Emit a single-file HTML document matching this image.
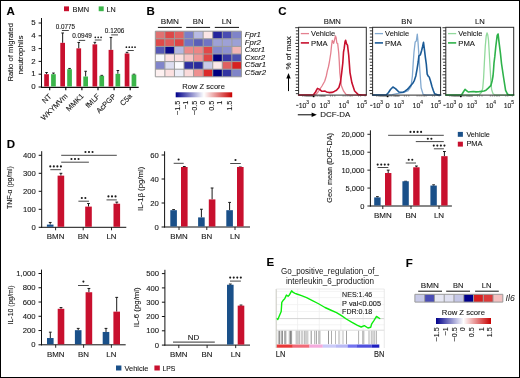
<!DOCTYPE html>
<html><head><meta charset="utf-8"><style>
html,body{margin:0;padding:0;background:#fff;}
svg{display:block;font-family:"Liberation Sans", sans-serif;will-change:transform;}
text{stroke:#161616;stroke-width:0.1px;}
</style></head><body>
<svg width="520" height="378" viewBox="0 0 520 378">
<rect x="0" y="0" width="520" height="378" fill="#fff"/>
<text x="6.50" y="14.80" font-size="11.5" text-anchor="start" fill="#000" font-weight="bold">A</text>
<rect x="64.00" y="6.40" width="5.00" height="4.80" fill="#C8102E"/>
<text x="72.50" y="11.50" font-size="8.0" text-anchor="start" fill="#161616" textLength="16.5" lengthAdjust="spacingAndGlyphs">BMN</text>
<rect x="98.70" y="6.40" width="5.00" height="4.80" fill="#3BB54A"/>
<text x="106.50" y="11.50" font-size="8.0" text-anchor="start" fill="#161616" textLength="9.2" lengthAdjust="spacingAndGlyphs">LN</text>
<line x1="41.50" y1="18.00" x2="41.50" y2="87.50" stroke="#111" stroke-width="1.0"/>
<line x1="41.00" y1="87.30" x2="138.70" y2="87.30" stroke="#111" stroke-width="1.2"/>
<line x1="38.60" y1="87.00" x2="41.50" y2="87.00" stroke="#111" stroke-width="1.0"/>
<text x="35.60" y="89.10" font-size="7.9" text-anchor="end" fill="#161616">0</text>
<line x1="38.60" y1="74.20" x2="41.50" y2="74.20" stroke="#111" stroke-width="1.0"/>
<text x="35.60" y="76.30" font-size="7.9" text-anchor="end" fill="#161616">1</text>
<line x1="38.60" y1="61.40" x2="41.50" y2="61.40" stroke="#111" stroke-width="1.0"/>
<text x="35.60" y="63.50" font-size="7.9" text-anchor="end" fill="#161616">2</text>
<line x1="38.60" y1="48.60" x2="41.50" y2="48.60" stroke="#111" stroke-width="1.0"/>
<text x="35.60" y="50.70" font-size="7.9" text-anchor="end" fill="#161616">3</text>
<line x1="38.60" y1="35.80" x2="41.50" y2="35.80" stroke="#111" stroke-width="1.0"/>
<text x="35.60" y="37.90" font-size="7.9" text-anchor="end" fill="#161616">4</text>
<line x1="38.60" y1="23.00" x2="41.50" y2="23.00" stroke="#111" stroke-width="1.0"/>
<text x="35.60" y="25.10" font-size="7.9" text-anchor="end" fill="#161616">5</text>
<text x="13.30" y="52.30" font-size="8.0" text-anchor="middle" fill="#161616" textLength="58.5" lengthAdjust="spacingAndGlyphs" transform="rotate(-90 13.30 52.30)">Ratio of migrated</text>
<text x="22.60" y="55.00" font-size="8.0" text-anchor="middle" fill="#161616" textLength="39.0" lengthAdjust="spacingAndGlyphs" transform="rotate(-90 22.60 55.00)">neutrophils</text>
<line x1="46.55" y1="74.20" x2="46.55" y2="72.54" stroke="#1a1a1a" stroke-width="1.0"/>
<line x1="45.25" y1="72.54" x2="47.85" y2="72.54" stroke="#1a1a1a" stroke-width="1.0"/>
<rect x="44.20" y="74.20" width="4.70" height="12.30" fill="#C8102E"/>
<line x1="53.45" y1="74.20" x2="53.45" y2="73.05" stroke="#1a1a1a" stroke-width="1.0"/>
<line x1="52.15" y1="73.05" x2="54.75" y2="73.05" stroke="#1a1a1a" stroke-width="1.0"/>
<rect x="51.10" y="74.20" width="4.70" height="12.30" fill="#3BB54A"/>
<line x1="49.70" y1="87.00" x2="49.70" y2="90.20" stroke="#000" stroke-width="1.1"/>
<text x="52.00" y="96.70" font-size="7.4" text-anchor="end" fill="#161616" transform="rotate(-45 52.00 96.70)">NT</text>
<line x1="62.65" y1="42.84" x2="62.65" y2="32.98" stroke="#1a1a1a" stroke-width="1.0"/>
<line x1="61.35" y1="32.98" x2="63.95" y2="32.98" stroke="#1a1a1a" stroke-width="1.0"/>
<rect x="60.30" y="42.84" width="4.70" height="43.66" fill="#C8102E"/>
<line x1="69.55" y1="69.21" x2="69.55" y2="68.44" stroke="#1a1a1a" stroke-width="1.0"/>
<line x1="68.25" y1="68.44" x2="70.85" y2="68.44" stroke="#1a1a1a" stroke-width="1.0"/>
<rect x="67.20" y="69.21" width="4.70" height="17.29" fill="#3BB54A"/>
<line x1="65.80" y1="87.00" x2="65.80" y2="90.20" stroke="#000" stroke-width="1.1"/>
<text x="68.10" y="96.70" font-size="7.4" text-anchor="end" fill="#161616" transform="rotate(-45 68.10 96.70)">WKYMVm</text>
<line x1="78.75" y1="48.34" x2="78.75" y2="42.46" stroke="#1a1a1a" stroke-width="1.0"/>
<line x1="77.45" y1="42.46" x2="80.05" y2="42.46" stroke="#1a1a1a" stroke-width="1.0"/>
<rect x="76.40" y="48.34" width="4.70" height="38.16" fill="#C8102E"/>
<line x1="85.65" y1="76.50" x2="85.65" y2="71.26" stroke="#1a1a1a" stroke-width="1.0"/>
<line x1="84.35" y1="71.26" x2="86.95" y2="71.26" stroke="#1a1a1a" stroke-width="1.0"/>
<rect x="83.30" y="76.50" width="4.70" height="10.00" fill="#3BB54A"/>
<line x1="81.90" y1="87.00" x2="81.90" y2="90.20" stroke="#000" stroke-width="1.1"/>
<text x="84.20" y="96.70" font-size="7.4" text-anchor="end" fill="#161616" transform="rotate(-45 84.20 96.70)">MMK1</text>
<line x1="94.85" y1="44.38" x2="94.85" y2="42.33" stroke="#1a1a1a" stroke-width="1.0"/>
<line x1="93.55" y1="42.33" x2="96.15" y2="42.33" stroke="#1a1a1a" stroke-width="1.0"/>
<rect x="92.50" y="44.38" width="4.70" height="42.12" fill="#C8102E"/>
<line x1="101.75" y1="75.80" x2="101.75" y2="75.35" stroke="#1a1a1a" stroke-width="1.0"/>
<line x1="100.45" y1="75.35" x2="103.05" y2="75.35" stroke="#1a1a1a" stroke-width="1.0"/>
<rect x="99.40" y="75.80" width="4.70" height="10.70" fill="#3BB54A"/>
<line x1="98.00" y1="87.00" x2="98.00" y2="90.20" stroke="#000" stroke-width="1.1"/>
<text x="100.30" y="96.70" font-size="7.4" text-anchor="end" fill="#161616" transform="rotate(-45 100.30 96.70)">fMLF</text>
<line x1="110.95" y1="49.88" x2="110.95" y2="37.46" stroke="#1a1a1a" stroke-width="1.0"/>
<line x1="109.65" y1="37.46" x2="112.25" y2="37.46" stroke="#1a1a1a" stroke-width="1.0"/>
<rect x="108.60" y="49.88" width="4.70" height="36.62" fill="#C8102E"/>
<line x1="117.85" y1="73.82" x2="117.85" y2="70.49" stroke="#1a1a1a" stroke-width="1.0"/>
<line x1="116.55" y1="70.49" x2="119.15" y2="70.49" stroke="#1a1a1a" stroke-width="1.0"/>
<rect x="115.50" y="73.82" width="4.70" height="12.68" fill="#3BB54A"/>
<line x1="114.10" y1="87.00" x2="114.10" y2="90.20" stroke="#000" stroke-width="1.1"/>
<text x="116.40" y="96.70" font-size="7.4" text-anchor="end" fill="#161616" transform="rotate(-45 116.40 96.70)">AcPGP</text>
<line x1="127.05" y1="53.46" x2="127.05" y2="52.31" stroke="#1a1a1a" stroke-width="1.0"/>
<line x1="125.75" y1="52.31" x2="128.35" y2="52.31" stroke="#1a1a1a" stroke-width="1.0"/>
<rect x="124.70" y="53.46" width="4.70" height="33.04" fill="#C8102E"/>
<line x1="133.95" y1="74.58" x2="133.95" y2="74.20" stroke="#1a1a1a" stroke-width="1.0"/>
<line x1="132.65" y1="74.20" x2="135.25" y2="74.20" stroke="#1a1a1a" stroke-width="1.0"/>
<rect x="131.60" y="74.58" width="4.70" height="11.92" fill="#3BB54A"/>
<line x1="130.20" y1="87.00" x2="130.20" y2="90.20" stroke="#000" stroke-width="1.1"/>
<text x="132.50" y="96.70" font-size="7.4" text-anchor="end" fill="#161616" transform="rotate(-45 132.50 96.70)">C5a</text>
<text x="55.80" y="28.80" font-size="6.3" text-anchor="start" fill="#161616" textLength="19.3" lengthAdjust="spacingAndGlyphs">0.0775</text>
<line x1="61.90" y1="30.50" x2="68.80" y2="30.50" stroke="#333" stroke-width="0.9"/>
<text x="72.20" y="37.80" font-size="6.3" text-anchor="start" fill="#161616" textLength="19.6" lengthAdjust="spacingAndGlyphs">0.0949</text>
<line x1="78.80" y1="40.40" x2="85.20" y2="40.40" stroke="#333" stroke-width="0.9"/>
<circle cx="95.30" cy="37.30" r="0.85" fill="#1a1a1a"/>
<circle cx="98.20" cy="37.30" r="0.85" fill="#1a1a1a"/>
<circle cx="101.10" cy="37.30" r="0.85" fill="#1a1a1a"/>
<line x1="94.80" y1="40.00" x2="101.60" y2="40.00" stroke="#333" stroke-width="0.9"/>
<text x="104.80" y="32.50" font-size="6.3" text-anchor="start" fill="#161616" textLength="19.6" lengthAdjust="spacingAndGlyphs">0.1206</text>
<line x1="111.20" y1="34.90" x2="118.00" y2="34.90" stroke="#333" stroke-width="0.9"/>
<circle cx="126.38" cy="47.20" r="0.85" fill="#1a1a1a"/>
<circle cx="129.26" cy="47.20" r="0.85" fill="#1a1a1a"/>
<circle cx="132.14" cy="47.20" r="0.85" fill="#1a1a1a"/>
<circle cx="135.02" cy="47.20" r="0.85" fill="#1a1a1a"/>
<line x1="127.50" y1="50.50" x2="133.80" y2="50.50" stroke="#333" stroke-width="0.9"/>
<text x="146.50" y="15.00" font-size="11.5" text-anchor="start" fill="#000" font-weight="bold">B</text>
<text x="169.90" y="24.20" font-size="8.0" text-anchor="middle" fill="#161616" textLength="18.2" lengthAdjust="spacingAndGlyphs">BMN</text>
<line x1="157.90" y1="27.40" x2="181.80" y2="27.40" stroke="#111" stroke-width="1.0"/>
<text x="198.20" y="24.30" font-size="8.0" text-anchor="middle" fill="#161616" textLength="10.7" lengthAdjust="spacingAndGlyphs">BN</text>
<line x1="186.20" y1="27.40" x2="210.10" y2="27.40" stroke="#111" stroke-width="1.0"/>
<text x="226.70" y="24.30" font-size="8.0" text-anchor="middle" fill="#161616" textLength="10.0" lengthAdjust="spacingAndGlyphs">LN</text>
<line x1="214.80" y1="27.40" x2="239.00" y2="27.40" stroke="#111" stroke-width="1.0"/>
<rect x="155.30" y="31.20" width="9.57" height="7.60" fill="#E07272"/>
<rect x="164.87" y="31.20" width="9.57" height="7.60" fill="#DD4848"/>
<rect x="174.44" y="31.20" width="9.57" height="7.60" fill="#E06262"/>
<rect x="184.01" y="31.20" width="9.57" height="7.60" fill="#7B7FC8"/>
<rect x="193.58" y="31.20" width="9.57" height="7.60" fill="#B8BBE3"/>
<rect x="203.15" y="31.20" width="9.57" height="7.60" fill="#FBE6E6"/>
<rect x="212.72" y="31.20" width="9.57" height="7.60" fill="#23239C"/>
<rect x="222.29" y="31.20" width="9.57" height="7.60" fill="#4A4DB2"/>
<rect x="231.86" y="31.20" width="9.57" height="7.60" fill="#7F83C9"/>
<rect x="155.30" y="38.80" width="9.57" height="7.60" fill="#DE4A4A"/>
<rect x="164.87" y="38.80" width="9.57" height="7.60" fill="#E05A5A"/>
<rect x="174.44" y="38.80" width="9.57" height="7.60" fill="#DC4545"/>
<rect x="184.01" y="38.80" width="9.57" height="7.60" fill="#7074C4"/>
<rect x="193.58" y="38.80" width="9.57" height="7.60" fill="#5A5EB8"/>
<rect x="203.15" y="38.80" width="9.57" height="7.60" fill="#7074C4"/>
<rect x="212.72" y="38.80" width="9.57" height="7.60" fill="#9EA1D6"/>
<rect x="222.29" y="38.80" width="9.57" height="7.60" fill="#9EA1D6"/>
<rect x="231.86" y="38.80" width="9.57" height="7.60" fill="#9CA0D5"/>
<rect x="155.30" y="46.40" width="9.57" height="7.60" fill="#5558B5"/>
<rect x="164.87" y="46.40" width="9.57" height="7.60" fill="#0A0A8A"/>
<rect x="174.44" y="46.40" width="9.57" height="7.60" fill="#B5B8E0"/>
<rect x="184.01" y="46.40" width="9.57" height="7.60" fill="#EC8A8A"/>
<rect x="193.58" y="46.40" width="9.57" height="7.60" fill="#EC8585"/>
<rect x="203.15" y="46.40" width="9.57" height="7.60" fill="#E04848"/>
<rect x="212.72" y="46.40" width="9.57" height="7.60" fill="#8488CC"/>
<rect x="222.29" y="46.40" width="9.57" height="7.60" fill="#8E92D0"/>
<rect x="231.86" y="46.40" width="9.57" height="7.60" fill="#F2B5B5"/>
<rect x="155.30" y="54.00" width="9.57" height="7.60" fill="#F8F8FC"/>
<rect x="164.87" y="54.00" width="9.57" height="7.60" fill="#FBE0E0"/>
<rect x="174.44" y="54.00" width="9.57" height="7.60" fill="#FBE0E0"/>
<rect x="184.01" y="54.00" width="9.57" height="7.60" fill="#F6C5C5"/>
<rect x="193.58" y="54.00" width="9.57" height="7.60" fill="#EE9595"/>
<rect x="203.15" y="54.00" width="9.57" height="7.60" fill="#E04444"/>
<rect x="212.72" y="54.00" width="9.57" height="7.60" fill="#00007F"/>
<rect x="222.29" y="54.00" width="9.57" height="7.60" fill="#3838A5"/>
<rect x="231.86" y="54.00" width="9.57" height="7.60" fill="#4C50B0"/>
<rect x="155.30" y="61.60" width="9.57" height="7.60" fill="#8185CB"/>
<rect x="164.87" y="61.60" width="9.57" height="7.60" fill="#DCDDF0"/>
<rect x="174.44" y="61.60" width="9.57" height="7.60" fill="#FAFAFD"/>
<rect x="184.01" y="61.60" width="9.57" height="7.60" fill="#2E30A0"/>
<rect x="193.58" y="61.60" width="9.57" height="7.60" fill="#2A2C9C"/>
<rect x="203.15" y="61.60" width="9.57" height="7.60" fill="#C8CAE8"/>
<rect x="212.72" y="61.60" width="9.57" height="7.60" fill="#FCE8E8"/>
<rect x="222.29" y="61.60" width="9.57" height="7.60" fill="#E06060"/>
<rect x="231.86" y="61.60" width="9.57" height="7.60" fill="#D82020"/>
<rect x="155.30" y="69.20" width="9.57" height="7.60" fill="#FDF0F0"/>
<rect x="164.87" y="69.20" width="9.57" height="7.60" fill="#FBE0E0"/>
<rect x="174.44" y="69.20" width="9.57" height="7.60" fill="#ECEDF7"/>
<rect x="184.01" y="69.20" width="9.57" height="7.60" fill="#FADADA"/>
<rect x="193.58" y="69.20" width="9.57" height="7.60" fill="#EE8F8F"/>
<rect x="203.15" y="69.20" width="9.57" height="7.60" fill="#DC2A2A"/>
<rect x="212.72" y="69.20" width="9.57" height="7.60" fill="#000080"/>
<rect x="222.29" y="69.20" width="9.57" height="7.60" fill="#3335A2"/>
<rect x="231.86" y="69.20" width="9.57" height="7.60" fill="#7F84C8"/>
<line x1="155.30" y1="31.20" x2="155.30" y2="76.80" stroke="#9a9a9a" stroke-width="1.0"/>
<line x1="164.87" y1="31.20" x2="164.87" y2="76.80" stroke="#9a9a9a" stroke-width="1.0"/>
<line x1="174.44" y1="31.20" x2="174.44" y2="76.80" stroke="#9a9a9a" stroke-width="1.0"/>
<line x1="184.01" y1="31.20" x2="184.01" y2="76.80" stroke="#9a9a9a" stroke-width="1.0"/>
<line x1="193.58" y1="31.20" x2="193.58" y2="76.80" stroke="#9a9a9a" stroke-width="1.0"/>
<line x1="203.15" y1="31.20" x2="203.15" y2="76.80" stroke="#9a9a9a" stroke-width="1.0"/>
<line x1="212.72" y1="31.20" x2="212.72" y2="76.80" stroke="#9a9a9a" stroke-width="1.0"/>
<line x1="222.29" y1="31.20" x2="222.29" y2="76.80" stroke="#9a9a9a" stroke-width="1.0"/>
<line x1="231.86" y1="31.20" x2="231.86" y2="76.80" stroke="#9a9a9a" stroke-width="1.0"/>
<line x1="241.43" y1="31.20" x2="241.43" y2="76.80" stroke="#9a9a9a" stroke-width="1.0"/>
<line x1="155.30" y1="31.20" x2="241.43" y2="31.20" stroke="#9a9a9a" stroke-width="1.0"/>
<line x1="155.30" y1="38.80" x2="241.43" y2="38.80" stroke="#9a9a9a" stroke-width="1.0"/>
<line x1="155.30" y1="46.40" x2="241.43" y2="46.40" stroke="#9a9a9a" stroke-width="1.0"/>
<line x1="155.30" y1="54.00" x2="241.43" y2="54.00" stroke="#9a9a9a" stroke-width="1.0"/>
<line x1="155.30" y1="61.60" x2="241.43" y2="61.60" stroke="#9a9a9a" stroke-width="1.0"/>
<line x1="155.30" y1="69.20" x2="241.43" y2="69.20" stroke="#9a9a9a" stroke-width="1.0"/>
<line x1="155.30" y1="76.80" x2="241.43" y2="76.80" stroke="#9a9a9a" stroke-width="1.0"/>
<text x="244.80" y="36.90" font-size="7.8" text-anchor="start" fill="#161616" font-style="italic">Fpr1</text>
<text x="244.80" y="44.50" font-size="7.8" text-anchor="start" fill="#161616" font-style="italic">Fpr2</text>
<text x="244.80" y="52.10" font-size="7.8" text-anchor="start" fill="#161616" font-style="italic">Cxcr1</text>
<text x="244.80" y="59.70" font-size="7.8" text-anchor="start" fill="#161616" font-style="italic">Cxcr2</text>
<text x="244.80" y="67.30" font-size="7.8" text-anchor="start" fill="#161616" font-style="italic">C5ar1</text>
<text x="244.80" y="74.90" font-size="7.8" text-anchor="start" fill="#161616" font-style="italic">C5ar2</text>
<text x="203.60" y="89.30" font-size="7.6" text-anchor="middle" fill="#161616" textLength="42.5" lengthAdjust="spacingAndGlyphs">Row Z score</text>
<defs><linearGradient id="cb1" x1="0" x2="1" y1="0" y2="0"><stop offset="0" stop-color="#00008B"/><stop offset="0.5" stop-color="#FFFFFF"/><stop offset="1" stop-color="#C80000"/></linearGradient></defs>
<rect x="175.70" y="92.30" width="56.50" height="5.00" fill="url(#cb1)"/>
<text x="179.90" y="100.60" font-size="7.3" text-anchor="end" fill="#161616" transform="rotate(-90 179.90 100.60)">−1.5</text>
<text x="187.80" y="100.60" font-size="7.3" text-anchor="end" fill="#161616" transform="rotate(-90 187.80 100.60)">−1</text>
<text x="197.30" y="100.60" font-size="7.3" text-anchor="end" fill="#161616" transform="rotate(-90 197.30 100.60)">−0.5</text>
<text x="204.90" y="100.60" font-size="7.3" text-anchor="end" fill="#161616" transform="rotate(-90 204.90 100.60)">0</text>
<text x="213.60" y="100.60" font-size="7.3" text-anchor="end" fill="#161616" transform="rotate(-90 213.60 100.60)">0.5</text>
<text x="222.00" y="100.60" font-size="7.3" text-anchor="end" fill="#161616" transform="rotate(-90 222.00 100.60)">1</text>
<text x="232.20" y="100.60" font-size="7.3" text-anchor="end" fill="#161616" transform="rotate(-90 232.20 100.60)">1.5</text>
<text x="278.30" y="15.20" font-size="11.5" text-anchor="start" fill="#000" font-weight="bold">C</text>
<text x="291.20" y="52.90" font-size="7.4" text-anchor="middle" fill="#161616" textLength="33.2" lengthAdjust="spacingAndGlyphs" transform="rotate(-90 291.20 52.90)">% of max</text>
<line x1="288.50" y1="91.10" x2="288.50" y2="77.00" stroke="#000" stroke-width="1.0"/>
<path d="M286.3,78.6 L288.5,73.0 L290.7,78.6 Z" fill="#000"/>
<line x1="295.20" y1="27.70" x2="298.60" y2="27.70" stroke="#222" stroke-width="0.9"/>
<line x1="295.90" y1="30.84" x2="298.60" y2="30.84" stroke="#222" stroke-width="0.9"/>
<line x1="295.90" y1="33.98" x2="298.60" y2="33.98" stroke="#222" stroke-width="0.9"/>
<line x1="295.90" y1="37.12" x2="298.60" y2="37.12" stroke="#222" stroke-width="0.9"/>
<line x1="295.90" y1="40.26" x2="298.60" y2="40.26" stroke="#222" stroke-width="0.9"/>
<line x1="295.20" y1="43.40" x2="298.60" y2="43.40" stroke="#222" stroke-width="0.9"/>
<line x1="295.90" y1="46.54" x2="298.60" y2="46.54" stroke="#222" stroke-width="0.9"/>
<line x1="295.90" y1="49.68" x2="298.60" y2="49.68" stroke="#222" stroke-width="0.9"/>
<line x1="295.90" y1="52.82" x2="298.60" y2="52.82" stroke="#222" stroke-width="0.9"/>
<line x1="295.90" y1="55.96" x2="298.60" y2="55.96" stroke="#222" stroke-width="0.9"/>
<line x1="295.20" y1="59.10" x2="298.60" y2="59.10" stroke="#222" stroke-width="0.9"/>
<line x1="295.90" y1="62.24" x2="298.60" y2="62.24" stroke="#222" stroke-width="0.9"/>
<line x1="295.90" y1="65.38" x2="298.60" y2="65.38" stroke="#222" stroke-width="0.9"/>
<line x1="295.90" y1="68.52" x2="298.60" y2="68.52" stroke="#222" stroke-width="0.9"/>
<line x1="295.90" y1="71.66" x2="298.60" y2="71.66" stroke="#222" stroke-width="0.9"/>
<line x1="295.20" y1="74.80" x2="298.60" y2="74.80" stroke="#222" stroke-width="0.9"/>
<line x1="295.90" y1="77.94" x2="298.60" y2="77.94" stroke="#222" stroke-width="0.9"/>
<line x1="295.90" y1="81.08" x2="298.60" y2="81.08" stroke="#222" stroke-width="0.9"/>
<line x1="295.90" y1="84.22" x2="298.60" y2="84.22" stroke="#222" stroke-width="0.9"/>
<line x1="295.90" y1="87.36" x2="298.60" y2="87.36" stroke="#222" stroke-width="0.9"/>
<line x1="295.20" y1="90.50" x2="298.60" y2="90.50" stroke="#222" stroke-width="0.9"/>
<line x1="295.90" y1="93.64" x2="298.60" y2="93.64" stroke="#222" stroke-width="0.9"/>
<line x1="302.60" y1="95.10" x2="302.60" y2="96.90" stroke="#666" stroke-width="0.5"/>
<line x1="304.10" y1="95.10" x2="304.10" y2="96.90" stroke="#666" stroke-width="0.5"/>
<line x1="305.10" y1="95.10" x2="305.10" y2="96.90" stroke="#666" stroke-width="0.5"/>
<line x1="305.90" y1="95.10" x2="305.90" y2="96.90" stroke="#666" stroke-width="0.5"/>
<line x1="306.60" y1="95.10" x2="306.60" y2="96.90" stroke="#666" stroke-width="0.5"/>
<line x1="307.20" y1="95.10" x2="307.20" y2="96.90" stroke="#666" stroke-width="0.5"/>
<line x1="307.80" y1="95.10" x2="307.80" y2="96.90" stroke="#666" stroke-width="0.5"/>
<line x1="308.40" y1="95.10" x2="308.40" y2="96.90" stroke="#666" stroke-width="0.5"/>
<line x1="309.00" y1="95.10" x2="309.00" y2="96.90" stroke="#666" stroke-width="0.5"/>
<line x1="309.60" y1="95.10" x2="309.60" y2="96.90" stroke="#666" stroke-width="0.5"/>
<line x1="310.20" y1="95.10" x2="310.20" y2="96.90" stroke="#666" stroke-width="0.5"/>
<line x1="310.80" y1="95.10" x2="310.80" y2="96.90" stroke="#666" stroke-width="0.5"/>
<line x1="311.40" y1="95.10" x2="311.40" y2="96.90" stroke="#666" stroke-width="0.5"/>
<line x1="312.00" y1="95.10" x2="312.00" y2="96.90" stroke="#666" stroke-width="0.5"/>
<line x1="312.60" y1="95.10" x2="312.60" y2="96.90" stroke="#666" stroke-width="0.5"/>
<line x1="313.20" y1="95.10" x2="313.20" y2="96.90" stroke="#666" stroke-width="0.5"/>
<line x1="314.00" y1="95.10" x2="314.00" y2="96.90" stroke="#666" stroke-width="0.5"/>
<line x1="314.90" y1="95.10" x2="314.90" y2="96.90" stroke="#666" stroke-width="0.5"/>
<line x1="316.10" y1="95.10" x2="316.10" y2="96.90" stroke="#666" stroke-width="0.5"/>
<line x1="317.60" y1="95.10" x2="317.60" y2="96.90" stroke="#666" stroke-width="0.5"/>
<line x1="319.10" y1="95.10" x2="319.10" y2="96.90" stroke="#666" stroke-width="0.5"/>
<line x1="320.10" y1="95.10" x2="320.10" y2="96.90" stroke="#666" stroke-width="0.5"/>
<line x1="320.90" y1="95.10" x2="320.90" y2="96.90" stroke="#666" stroke-width="0.5"/>
<line x1="321.60" y1="95.10" x2="321.60" y2="96.90" stroke="#666" stroke-width="0.5"/>
<line x1="322.20" y1="95.10" x2="322.20" y2="96.90" stroke="#666" stroke-width="0.5"/>
<line x1="322.90" y1="95.10" x2="322.90" y2="96.90" stroke="#666" stroke-width="0.5"/>
<line x1="323.60" y1="95.10" x2="323.60" y2="96.90" stroke="#666" stroke-width="0.5"/>
<line x1="324.40" y1="95.10" x2="324.40" y2="96.90" stroke="#666" stroke-width="0.5"/>
<line x1="325.20" y1="95.10" x2="325.20" y2="96.90" stroke="#666" stroke-width="0.5"/>
<line x1="330.40" y1="95.10" x2="330.40" y2="96.90" stroke="#666" stroke-width="0.5"/>
<line x1="332.40" y1="95.10" x2="332.40" y2="96.90" stroke="#666" stroke-width="0.5"/>
<line x1="334.80" y1="95.10" x2="334.80" y2="96.90" stroke="#666" stroke-width="0.5"/>
<line x1="343.10" y1="95.10" x2="343.10" y2="96.90" stroke="#666" stroke-width="0.5"/>
<line x1="345.10" y1="95.10" x2="345.10" y2="96.90" stroke="#666" stroke-width="0.5"/>
<line x1="347.10" y1="95.10" x2="347.10" y2="96.90" stroke="#666" stroke-width="0.5"/>
<line x1="349.10" y1="95.10" x2="349.10" y2="96.90" stroke="#666" stroke-width="0.5"/>
<line x1="350.60" y1="95.10" x2="350.60" y2="96.90" stroke="#666" stroke-width="0.5"/>
<line x1="352.10" y1="95.10" x2="352.10" y2="96.90" stroke="#666" stroke-width="0.5"/>
<line x1="358.60" y1="95.10" x2="358.60" y2="96.90" stroke="#666" stroke-width="0.5"/>
<line x1="360.60" y1="95.10" x2="360.60" y2="96.90" stroke="#666" stroke-width="0.5"/>
<line x1="365.10" y1="95.10" x2="365.10" y2="96.90" stroke="#666" stroke-width="0.5"/>
<rect x="312.80" y="95.40" width="1.60" height="1.80" fill="#000"/>
<polyline points="298.60,95.00 313.00,95.00 315.70,94.50 318.00,92.00 320.00,89.00 322.00,86.00 324.70,81.20 326.30,76.00 327.40,70.60 328.40,67.00 329.40,62.00 330.80,53.00 331.50,46.00 332.30,40.40 333.60,43.30 334.50,40.00 335.50,36.00 336.20,38.00 336.80,43.00 337.70,43.60 338.70,52.80 339.30,62.00 339.80,72.60 341.30,85.60 343.50,91.00 346.00,94.30 350.00,95.00 366.00,95.00" fill="none" stroke="#E4808F" stroke-width="1.3" stroke-linejoin="round" stroke-linecap="round"/>
<polyline points="298.60,95.00 313.30,95.00 315.50,92.00 317.50,88.40 319.50,89.40 321.60,91.20 323.20,91.30 324.70,91.00 326.50,91.90 329.00,92.60 332.00,92.40 334.30,91.40 336.50,90.20 338.90,87.40 340.50,82.00 341.70,72.60 342.80,63.00 343.50,52.20 344.20,48.40 345.00,42.00 345.60,40.20 346.50,43.70 347.50,45.10 348.70,55.00 350.00,72.60 351.90,82.80 354.60,91.00 358.30,94.60 362.00,95.00 366.00,95.00" fill="none" stroke="#C8102E" stroke-width="1.6" stroke-linejoin="round" stroke-linecap="round"/>
<rect x="298.60" y="27.30" width="67.70" height="67.80" fill="none" stroke="#2a2a2a" stroke-width="1"/>
<text x="332.30" y="24.30" font-size="7.7" text-anchor="middle" fill="#161616">BMN</text>
<line x1="300.80" y1="33.60" x2="309.00" y2="33.60" stroke="#E4808F" stroke-width="1.3"/>
<text x="311.10" y="36.30" font-size="8.0" text-anchor="start" fill="#161616" textLength="24.0" lengthAdjust="spacingAndGlyphs">Vehicle</text>
<line x1="300.80" y1="42.90" x2="309.00" y2="42.90" stroke="#C8102E" stroke-width="1.6"/>
<text x="311.10" y="45.50" font-size="8.0" text-anchor="start" fill="#161616" textLength="16.6" lengthAdjust="spacingAndGlyphs">PMA</text>
<line x1="296.20" y1="105.30" x2="298.40" y2="105.30" stroke="#161616" stroke-width="0.85"/>
<text x="298.75" y="107.90" font-size="7.5" text-anchor="start" fill="#161616" textLength="7.7" lengthAdjust="spacingAndGlyphs">10</text>
<text x="306.35" y="103.70" font-size="4.9" text-anchor="start" fill="#161616">3</text>
<text x="313.50" y="107.90" font-size="7.5" text-anchor="middle" fill="#161616">0</text>
<text x="319.55" y="107.90" font-size="7.5" text-anchor="start" fill="#161616" textLength="7.7" lengthAdjust="spacingAndGlyphs">10</text>
<text x="327.15" y="103.70" font-size="4.9" text-anchor="start" fill="#161616">3</text>
<text x="338.55" y="107.90" font-size="7.5" text-anchor="start" fill="#161616" textLength="7.7" lengthAdjust="spacingAndGlyphs">10</text>
<text x="346.15" y="103.70" font-size="4.9" text-anchor="start" fill="#161616">4</text>
<text x="356.55" y="107.90" font-size="7.5" text-anchor="start" fill="#161616" textLength="7.7" lengthAdjust="spacingAndGlyphs">10</text>
<text x="364.15" y="103.70" font-size="4.9" text-anchor="start" fill="#161616">5</text>
<line x1="369.20" y1="27.70" x2="372.60" y2="27.70" stroke="#222" stroke-width="0.9"/>
<line x1="369.90" y1="30.84" x2="372.60" y2="30.84" stroke="#222" stroke-width="0.9"/>
<line x1="369.90" y1="33.98" x2="372.60" y2="33.98" stroke="#222" stroke-width="0.9"/>
<line x1="369.90" y1="37.12" x2="372.60" y2="37.12" stroke="#222" stroke-width="0.9"/>
<line x1="369.90" y1="40.26" x2="372.60" y2="40.26" stroke="#222" stroke-width="0.9"/>
<line x1="369.20" y1="43.40" x2="372.60" y2="43.40" stroke="#222" stroke-width="0.9"/>
<line x1="369.90" y1="46.54" x2="372.60" y2="46.54" stroke="#222" stroke-width="0.9"/>
<line x1="369.90" y1="49.68" x2="372.60" y2="49.68" stroke="#222" stroke-width="0.9"/>
<line x1="369.90" y1="52.82" x2="372.60" y2="52.82" stroke="#222" stroke-width="0.9"/>
<line x1="369.90" y1="55.96" x2="372.60" y2="55.96" stroke="#222" stroke-width="0.9"/>
<line x1="369.20" y1="59.10" x2="372.60" y2="59.10" stroke="#222" stroke-width="0.9"/>
<line x1="369.90" y1="62.24" x2="372.60" y2="62.24" stroke="#222" stroke-width="0.9"/>
<line x1="369.90" y1="65.38" x2="372.60" y2="65.38" stroke="#222" stroke-width="0.9"/>
<line x1="369.90" y1="68.52" x2="372.60" y2="68.52" stroke="#222" stroke-width="0.9"/>
<line x1="369.90" y1="71.66" x2="372.60" y2="71.66" stroke="#222" stroke-width="0.9"/>
<line x1="369.20" y1="74.80" x2="372.60" y2="74.80" stroke="#222" stroke-width="0.9"/>
<line x1="369.90" y1="77.94" x2="372.60" y2="77.94" stroke="#222" stroke-width="0.9"/>
<line x1="369.90" y1="81.08" x2="372.60" y2="81.08" stroke="#222" stroke-width="0.9"/>
<line x1="369.90" y1="84.22" x2="372.60" y2="84.22" stroke="#222" stroke-width="0.9"/>
<line x1="369.90" y1="87.36" x2="372.60" y2="87.36" stroke="#222" stroke-width="0.9"/>
<line x1="369.20" y1="90.50" x2="372.60" y2="90.50" stroke="#222" stroke-width="0.9"/>
<line x1="369.90" y1="93.64" x2="372.60" y2="93.64" stroke="#222" stroke-width="0.9"/>
<line x1="376.60" y1="95.10" x2="376.60" y2="96.90" stroke="#666" stroke-width="0.5"/>
<line x1="378.10" y1="95.10" x2="378.10" y2="96.90" stroke="#666" stroke-width="0.5"/>
<line x1="379.10" y1="95.10" x2="379.10" y2="96.90" stroke="#666" stroke-width="0.5"/>
<line x1="379.90" y1="95.10" x2="379.90" y2="96.90" stroke="#666" stroke-width="0.5"/>
<line x1="380.60" y1="95.10" x2="380.60" y2="96.90" stroke="#666" stroke-width="0.5"/>
<line x1="381.20" y1="95.10" x2="381.20" y2="96.90" stroke="#666" stroke-width="0.5"/>
<line x1="381.80" y1="95.10" x2="381.80" y2="96.90" stroke="#666" stroke-width="0.5"/>
<line x1="382.40" y1="95.10" x2="382.40" y2="96.90" stroke="#666" stroke-width="0.5"/>
<line x1="383.00" y1="95.10" x2="383.00" y2="96.90" stroke="#666" stroke-width="0.5"/>
<line x1="383.60" y1="95.10" x2="383.60" y2="96.90" stroke="#666" stroke-width="0.5"/>
<line x1="384.20" y1="95.10" x2="384.20" y2="96.90" stroke="#666" stroke-width="0.5"/>
<line x1="384.80" y1="95.10" x2="384.80" y2="96.90" stroke="#666" stroke-width="0.5"/>
<line x1="385.40" y1="95.10" x2="385.40" y2="96.90" stroke="#666" stroke-width="0.5"/>
<line x1="386.00" y1="95.10" x2="386.00" y2="96.90" stroke="#666" stroke-width="0.5"/>
<line x1="386.60" y1="95.10" x2="386.60" y2="96.90" stroke="#666" stroke-width="0.5"/>
<line x1="387.20" y1="95.10" x2="387.20" y2="96.90" stroke="#666" stroke-width="0.5"/>
<line x1="388.00" y1="95.10" x2="388.00" y2="96.90" stroke="#666" stroke-width="0.5"/>
<line x1="388.90" y1="95.10" x2="388.90" y2="96.90" stroke="#666" stroke-width="0.5"/>
<line x1="390.10" y1="95.10" x2="390.10" y2="96.90" stroke="#666" stroke-width="0.5"/>
<line x1="391.60" y1="95.10" x2="391.60" y2="96.90" stroke="#666" stroke-width="0.5"/>
<line x1="393.10" y1="95.10" x2="393.10" y2="96.90" stroke="#666" stroke-width="0.5"/>
<line x1="394.10" y1="95.10" x2="394.10" y2="96.90" stroke="#666" stroke-width="0.5"/>
<line x1="394.90" y1="95.10" x2="394.90" y2="96.90" stroke="#666" stroke-width="0.5"/>
<line x1="395.60" y1="95.10" x2="395.60" y2="96.90" stroke="#666" stroke-width="0.5"/>
<line x1="396.20" y1="95.10" x2="396.20" y2="96.90" stroke="#666" stroke-width="0.5"/>
<line x1="396.90" y1="95.10" x2="396.90" y2="96.90" stroke="#666" stroke-width="0.5"/>
<line x1="397.60" y1="95.10" x2="397.60" y2="96.90" stroke="#666" stroke-width="0.5"/>
<line x1="398.40" y1="95.10" x2="398.40" y2="96.90" stroke="#666" stroke-width="0.5"/>
<line x1="399.20" y1="95.10" x2="399.20" y2="96.90" stroke="#666" stroke-width="0.5"/>
<line x1="404.40" y1="95.10" x2="404.40" y2="96.90" stroke="#666" stroke-width="0.5"/>
<line x1="406.40" y1="95.10" x2="406.40" y2="96.90" stroke="#666" stroke-width="0.5"/>
<line x1="408.80" y1="95.10" x2="408.80" y2="96.90" stroke="#666" stroke-width="0.5"/>
<line x1="417.10" y1="95.10" x2="417.10" y2="96.90" stroke="#666" stroke-width="0.5"/>
<line x1="419.10" y1="95.10" x2="419.10" y2="96.90" stroke="#666" stroke-width="0.5"/>
<line x1="421.10" y1="95.10" x2="421.10" y2="96.90" stroke="#666" stroke-width="0.5"/>
<line x1="423.10" y1="95.10" x2="423.10" y2="96.90" stroke="#666" stroke-width="0.5"/>
<line x1="424.60" y1="95.10" x2="424.60" y2="96.90" stroke="#666" stroke-width="0.5"/>
<line x1="426.10" y1="95.10" x2="426.10" y2="96.90" stroke="#666" stroke-width="0.5"/>
<line x1="432.60" y1="95.10" x2="432.60" y2="96.90" stroke="#666" stroke-width="0.5"/>
<line x1="434.60" y1="95.10" x2="434.60" y2="96.90" stroke="#666" stroke-width="0.5"/>
<line x1="439.10" y1="95.10" x2="439.10" y2="96.90" stroke="#666" stroke-width="0.5"/>
<rect x="386.80" y="95.40" width="1.60" height="1.80" fill="#000"/>
<polyline points="372.60,95.00 390.00,95.00 392.20,94.60 397.00,93.60 403.00,92.60 407.70,91.00 411.00,86.50 412.40,76.00 413.20,63.00 414.00,52.00 415.20,41.90 416.30,41.00 417.30,34.20 418.00,41.90 418.70,52.00 419.40,63.00 419.80,70.00 421.10,87.70 423.10,94.40 426.00,95.00 440.60,95.00" fill="none" stroke="#82A9D0" stroke-width="1.3" stroke-linejoin="round" stroke-linecap="round"/>
<polyline points="372.60,95.00 386.20,95.00 388.50,92.50 390.50,89.50 392.90,87.00 395.50,88.60 398.90,92.00 401.00,92.30 403.00,92.20 405.00,91.20 407.00,89.70 409.00,87.60 411.00,85.30 413.00,83.00 414.40,80.30 415.80,76.00 417.10,68.80 418.20,62.00 418.90,55.80 420.30,54.90 421.70,50.20 422.60,46.50 423.50,42.40 424.40,49.30 425.40,57.60 426.30,64.00 427.20,74.20 428.20,76.20 429.20,77.00 430.50,81.00 431.90,86.30 433.30,90.50 434.60,93.70 438.00,95.00 440.60,95.00" fill="none" stroke="#1A5A96" stroke-width="1.6" stroke-linejoin="round" stroke-linecap="round"/>
<rect x="372.60" y="27.30" width="68.00" height="67.80" fill="none" stroke="#2a2a2a" stroke-width="1"/>
<text x="406.60" y="24.30" font-size="7.7" text-anchor="middle" fill="#161616">BN</text>
<line x1="374.80" y1="33.60" x2="383.00" y2="33.60" stroke="#82A9D0" stroke-width="1.3"/>
<text x="385.10" y="36.30" font-size="8.0" text-anchor="start" fill="#161616" textLength="24.0" lengthAdjust="spacingAndGlyphs">Vehicle</text>
<line x1="374.80" y1="42.90" x2="383.00" y2="42.90" stroke="#1A5A96" stroke-width="1.6"/>
<text x="385.10" y="45.50" font-size="8.0" text-anchor="start" fill="#161616" textLength="16.6" lengthAdjust="spacingAndGlyphs">PMA</text>
<line x1="370.20" y1="105.30" x2="372.40" y2="105.30" stroke="#161616" stroke-width="0.85"/>
<text x="372.75" y="107.90" font-size="7.5" text-anchor="start" fill="#161616" textLength="7.7" lengthAdjust="spacingAndGlyphs">10</text>
<text x="380.35" y="103.70" font-size="4.9" text-anchor="start" fill="#161616">3</text>
<text x="387.50" y="107.90" font-size="7.5" text-anchor="middle" fill="#161616">0</text>
<text x="393.55" y="107.90" font-size="7.5" text-anchor="start" fill="#161616" textLength="7.7" lengthAdjust="spacingAndGlyphs">10</text>
<text x="401.15" y="103.70" font-size="4.9" text-anchor="start" fill="#161616">3</text>
<text x="412.55" y="107.90" font-size="7.5" text-anchor="start" fill="#161616" textLength="7.7" lengthAdjust="spacingAndGlyphs">10</text>
<text x="420.15" y="103.70" font-size="4.9" text-anchor="start" fill="#161616">4</text>
<text x="430.55" y="107.90" font-size="7.5" text-anchor="start" fill="#161616" textLength="7.7" lengthAdjust="spacingAndGlyphs">10</text>
<text x="438.15" y="103.70" font-size="4.9" text-anchor="start" fill="#161616">5</text>
<line x1="442.40" y1="27.70" x2="445.80" y2="27.70" stroke="#222" stroke-width="0.9"/>
<line x1="443.10" y1="30.84" x2="445.80" y2="30.84" stroke="#222" stroke-width="0.9"/>
<line x1="443.10" y1="33.98" x2="445.80" y2="33.98" stroke="#222" stroke-width="0.9"/>
<line x1="443.10" y1="37.12" x2="445.80" y2="37.12" stroke="#222" stroke-width="0.9"/>
<line x1="443.10" y1="40.26" x2="445.80" y2="40.26" stroke="#222" stroke-width="0.9"/>
<line x1="442.40" y1="43.40" x2="445.80" y2="43.40" stroke="#222" stroke-width="0.9"/>
<line x1="443.10" y1="46.54" x2="445.80" y2="46.54" stroke="#222" stroke-width="0.9"/>
<line x1="443.10" y1="49.68" x2="445.80" y2="49.68" stroke="#222" stroke-width="0.9"/>
<line x1="443.10" y1="52.82" x2="445.80" y2="52.82" stroke="#222" stroke-width="0.9"/>
<line x1="443.10" y1="55.96" x2="445.80" y2="55.96" stroke="#222" stroke-width="0.9"/>
<line x1="442.40" y1="59.10" x2="445.80" y2="59.10" stroke="#222" stroke-width="0.9"/>
<line x1="443.10" y1="62.24" x2="445.80" y2="62.24" stroke="#222" stroke-width="0.9"/>
<line x1="443.10" y1="65.38" x2="445.80" y2="65.38" stroke="#222" stroke-width="0.9"/>
<line x1="443.10" y1="68.52" x2="445.80" y2="68.52" stroke="#222" stroke-width="0.9"/>
<line x1="443.10" y1="71.66" x2="445.80" y2="71.66" stroke="#222" stroke-width="0.9"/>
<line x1="442.40" y1="74.80" x2="445.80" y2="74.80" stroke="#222" stroke-width="0.9"/>
<line x1="443.10" y1="77.94" x2="445.80" y2="77.94" stroke="#222" stroke-width="0.9"/>
<line x1="443.10" y1="81.08" x2="445.80" y2="81.08" stroke="#222" stroke-width="0.9"/>
<line x1="443.10" y1="84.22" x2="445.80" y2="84.22" stroke="#222" stroke-width="0.9"/>
<line x1="443.10" y1="87.36" x2="445.80" y2="87.36" stroke="#222" stroke-width="0.9"/>
<line x1="442.40" y1="90.50" x2="445.80" y2="90.50" stroke="#222" stroke-width="0.9"/>
<line x1="443.10" y1="93.64" x2="445.80" y2="93.64" stroke="#222" stroke-width="0.9"/>
<line x1="449.80" y1="95.10" x2="449.80" y2="96.90" stroke="#666" stroke-width="0.5"/>
<line x1="451.30" y1="95.10" x2="451.30" y2="96.90" stroke="#666" stroke-width="0.5"/>
<line x1="452.30" y1="95.10" x2="452.30" y2="96.90" stroke="#666" stroke-width="0.5"/>
<line x1="453.10" y1="95.10" x2="453.10" y2="96.90" stroke="#666" stroke-width="0.5"/>
<line x1="453.80" y1="95.10" x2="453.80" y2="96.90" stroke="#666" stroke-width="0.5"/>
<line x1="454.40" y1="95.10" x2="454.40" y2="96.90" stroke="#666" stroke-width="0.5"/>
<line x1="455.00" y1="95.10" x2="455.00" y2="96.90" stroke="#666" stroke-width="0.5"/>
<line x1="455.60" y1="95.10" x2="455.60" y2="96.90" stroke="#666" stroke-width="0.5"/>
<line x1="456.20" y1="95.10" x2="456.20" y2="96.90" stroke="#666" stroke-width="0.5"/>
<line x1="456.80" y1="95.10" x2="456.80" y2="96.90" stroke="#666" stroke-width="0.5"/>
<line x1="457.40" y1="95.10" x2="457.40" y2="96.90" stroke="#666" stroke-width="0.5"/>
<line x1="458.00" y1="95.10" x2="458.00" y2="96.90" stroke="#666" stroke-width="0.5"/>
<line x1="458.60" y1="95.10" x2="458.60" y2="96.90" stroke="#666" stroke-width="0.5"/>
<line x1="459.20" y1="95.10" x2="459.20" y2="96.90" stroke="#666" stroke-width="0.5"/>
<line x1="459.80" y1="95.10" x2="459.80" y2="96.90" stroke="#666" stroke-width="0.5"/>
<line x1="460.40" y1="95.10" x2="460.40" y2="96.90" stroke="#666" stroke-width="0.5"/>
<line x1="461.20" y1="95.10" x2="461.20" y2="96.90" stroke="#666" stroke-width="0.5"/>
<line x1="462.10" y1="95.10" x2="462.10" y2="96.90" stroke="#666" stroke-width="0.5"/>
<line x1="463.30" y1="95.10" x2="463.30" y2="96.90" stroke="#666" stroke-width="0.5"/>
<line x1="464.80" y1="95.10" x2="464.80" y2="96.90" stroke="#666" stroke-width="0.5"/>
<line x1="466.30" y1="95.10" x2="466.30" y2="96.90" stroke="#666" stroke-width="0.5"/>
<line x1="467.30" y1="95.10" x2="467.30" y2="96.90" stroke="#666" stroke-width="0.5"/>
<line x1="468.10" y1="95.10" x2="468.10" y2="96.90" stroke="#666" stroke-width="0.5"/>
<line x1="468.80" y1="95.10" x2="468.80" y2="96.90" stroke="#666" stroke-width="0.5"/>
<line x1="469.40" y1="95.10" x2="469.40" y2="96.90" stroke="#666" stroke-width="0.5"/>
<line x1="470.10" y1="95.10" x2="470.10" y2="96.90" stroke="#666" stroke-width="0.5"/>
<line x1="470.80" y1="95.10" x2="470.80" y2="96.90" stroke="#666" stroke-width="0.5"/>
<line x1="471.60" y1="95.10" x2="471.60" y2="96.90" stroke="#666" stroke-width="0.5"/>
<line x1="472.40" y1="95.10" x2="472.40" y2="96.90" stroke="#666" stroke-width="0.5"/>
<line x1="477.60" y1="95.10" x2="477.60" y2="96.90" stroke="#666" stroke-width="0.5"/>
<line x1="479.60" y1="95.10" x2="479.60" y2="96.90" stroke="#666" stroke-width="0.5"/>
<line x1="482.00" y1="95.10" x2="482.00" y2="96.90" stroke="#666" stroke-width="0.5"/>
<line x1="490.30" y1="95.10" x2="490.30" y2="96.90" stroke="#666" stroke-width="0.5"/>
<line x1="492.30" y1="95.10" x2="492.30" y2="96.90" stroke="#666" stroke-width="0.5"/>
<line x1="494.30" y1="95.10" x2="494.30" y2="96.90" stroke="#666" stroke-width="0.5"/>
<line x1="496.30" y1="95.10" x2="496.30" y2="96.90" stroke="#666" stroke-width="0.5"/>
<line x1="497.80" y1="95.10" x2="497.80" y2="96.90" stroke="#666" stroke-width="0.5"/>
<line x1="499.30" y1="95.10" x2="499.30" y2="96.90" stroke="#666" stroke-width="0.5"/>
<line x1="505.80" y1="95.10" x2="505.80" y2="96.90" stroke="#666" stroke-width="0.5"/>
<line x1="507.80" y1="95.10" x2="507.80" y2="96.90" stroke="#666" stroke-width="0.5"/>
<line x1="512.30" y1="95.10" x2="512.30" y2="96.90" stroke="#666" stroke-width="0.5"/>
<rect x="460.00" y="95.40" width="1.60" height="1.80" fill="#000"/>
<polyline points="445.80,95.00 476.00,95.00 479.50,94.50 481.50,92.20 482.70,88.50 483.60,78.00 484.40,62.00 485.30,46.00 486.20,36.00 487.00,32.80 487.80,35.00 488.50,40.00 489.20,52.00 490.00,66.00 490.80,80.00 491.60,89.50 493.00,93.80 495.00,95.00 513.70,95.00" fill="none" stroke="#92D99C" stroke-width="1.3" stroke-linejoin="round" stroke-linecap="round"/>
<polyline points="445.80,95.00 461.50,95.00 463.20,92.30 465.00,89.30 466.80,90.80 468.30,92.00 470.50,91.80 473.30,91.50 476.00,91.90 478.60,91.80 481.30,91.40 484.00,91.00 486.00,90.20 488.00,88.40 490.80,85.70 492.10,81.00 493.00,76.00 493.50,70.20 494.00,63.00 494.80,56.70 495.80,46.50 497.20,35.40 498.10,34.00 499.00,41.90 500.50,53.90 501.50,63.50 503.50,77.00 505.60,90.40 507.60,94.40 510.00,95.00 513.70,95.00" fill="none" stroke="#2EB24A" stroke-width="1.6" stroke-linejoin="round" stroke-linecap="round"/>
<rect x="445.80" y="27.30" width="67.90" height="67.80" fill="none" stroke="#2a2a2a" stroke-width="1"/>
<text x="479.80" y="24.30" font-size="7.7" text-anchor="middle" fill="#161616">LN</text>
<line x1="448.00" y1="33.60" x2="456.20" y2="33.60" stroke="#92D99C" stroke-width="1.3"/>
<text x="458.30" y="36.30" font-size="8.0" text-anchor="start" fill="#161616" textLength="24.0" lengthAdjust="spacingAndGlyphs">Vehicle</text>
<line x1="448.00" y1="42.90" x2="456.20" y2="42.90" stroke="#2EB24A" stroke-width="1.6"/>
<text x="458.30" y="45.50" font-size="8.0" text-anchor="start" fill="#161616" textLength="16.6" lengthAdjust="spacingAndGlyphs">PMA</text>
<line x1="443.40" y1="105.30" x2="445.60" y2="105.30" stroke="#161616" stroke-width="0.85"/>
<text x="445.95" y="107.90" font-size="7.5" text-anchor="start" fill="#161616" textLength="7.7" lengthAdjust="spacingAndGlyphs">10</text>
<text x="453.55" y="103.70" font-size="4.9" text-anchor="start" fill="#161616">3</text>
<text x="460.70" y="107.90" font-size="7.5" text-anchor="middle" fill="#161616">0</text>
<text x="466.75" y="107.90" font-size="7.5" text-anchor="start" fill="#161616" textLength="7.7" lengthAdjust="spacingAndGlyphs">10</text>
<text x="474.35" y="103.70" font-size="4.9" text-anchor="start" fill="#161616">3</text>
<text x="485.75" y="107.90" font-size="7.5" text-anchor="start" fill="#161616" textLength="7.7" lengthAdjust="spacingAndGlyphs">10</text>
<text x="493.35" y="103.70" font-size="4.9" text-anchor="start" fill="#161616">4</text>
<text x="503.75" y="107.90" font-size="7.5" text-anchor="start" fill="#161616" textLength="7.7" lengthAdjust="spacingAndGlyphs">10</text>
<text x="511.35" y="103.70" font-size="4.9" text-anchor="start" fill="#161616">5</text>
<line x1="297.80" y1="114.80" x2="312.50" y2="114.80" stroke="#000" stroke-width="1.0"/>
<path d="M311.6,112.5 L316.8,114.8 L311.6,117.1 Z" fill="#000"/>
<text x="320.20" y="116.80" font-size="7.6" text-anchor="start" fill="#161616" textLength="30.0" lengthAdjust="spacingAndGlyphs">DCF-DA</text>
<line x1="370.40" y1="130.30" x2="370.40" y2="206.50" stroke="#111" stroke-width="1.0"/>
<line x1="369.90" y1="206.00" x2="451.90" y2="206.00" stroke="#111" stroke-width="1.0"/>
<line x1="367.40" y1="206.00" x2="370.40" y2="206.00" stroke="#111" stroke-width="0.9"/>
<text x="364.40" y="208.60" font-size="7.5" text-anchor="end" fill="#161616">0</text>
<line x1="367.40" y1="188.07" x2="370.40" y2="188.07" stroke="#111" stroke-width="0.9"/>
<text x="364.40" y="190.67" font-size="7.5" text-anchor="end" fill="#161616">5,000</text>
<line x1="367.40" y1="170.15" x2="370.40" y2="170.15" stroke="#111" stroke-width="0.9"/>
<text x="364.40" y="172.75" font-size="7.5" text-anchor="end" fill="#161616">10,000</text>
<line x1="367.40" y1="152.22" x2="370.40" y2="152.22" stroke="#111" stroke-width="0.9"/>
<text x="364.40" y="154.82" font-size="7.5" text-anchor="end" fill="#161616">15,000</text>
<line x1="367.40" y1="134.30" x2="370.40" y2="134.30" stroke="#111" stroke-width="0.9"/>
<text x="364.40" y="136.90" font-size="7.5" text-anchor="end" fill="#161616">20,000</text>
<text x="332.00" y="167.90" font-size="7.6" text-anchor="middle" fill="#161616" textLength="69.6" lengthAdjust="spacingAndGlyphs" transform="rotate(-90 332.00 167.90)">Geo. mean (DCF-DA)</text>
<line x1="377.40" y1="197.40" x2="377.40" y2="196.68" stroke="#1a1a1a" stroke-width="1.0"/>
<line x1="376.00" y1="196.68" x2="378.80" y2="196.68" stroke="#1a1a1a" stroke-width="1.0"/>
<rect x="374.20" y="197.40" width="6.40" height="8.10" fill="#1A5089"/>
<line x1="388.20" y1="173.02" x2="388.20" y2="170.15" stroke="#1a1a1a" stroke-width="1.0"/>
<line x1="386.80" y1="170.15" x2="389.60" y2="170.15" stroke="#1a1a1a" stroke-width="1.0"/>
<rect x="385.00" y="173.02" width="6.40" height="32.48" fill="#C8102E"/>
<line x1="382.80" y1="206.00" x2="382.80" y2="209.00" stroke="#111" stroke-width="0.9"/>
<text x="382.80" y="217.90" font-size="8.0" text-anchor="middle" fill="#161616">BMN</text>
<line x1="405.60" y1="181.26" x2="405.60" y2="181.26" stroke="#1a1a1a" stroke-width="1.0"/>
<line x1="404.20" y1="181.26" x2="407.00" y2="181.26" stroke="#1a1a1a" stroke-width="1.0"/>
<rect x="402.40" y="181.26" width="6.40" height="24.24" fill="#1A5089"/>
<line x1="416.40" y1="167.28" x2="416.40" y2="166.03" stroke="#1a1a1a" stroke-width="1.0"/>
<line x1="415.00" y1="166.03" x2="417.80" y2="166.03" stroke="#1a1a1a" stroke-width="1.0"/>
<rect x="413.20" y="167.28" width="6.40" height="38.22" fill="#C8102E"/>
<line x1="411.00" y1="206.00" x2="411.00" y2="209.00" stroke="#111" stroke-width="0.9"/>
<text x="411.00" y="217.90" font-size="8.0" text-anchor="middle" fill="#161616">BN</text>
<line x1="433.60" y1="185.57" x2="433.60" y2="184.85" stroke="#1a1a1a" stroke-width="1.0"/>
<line x1="432.20" y1="184.85" x2="435.00" y2="184.85" stroke="#1a1a1a" stroke-width="1.0"/>
<rect x="430.40" y="185.57" width="6.40" height="19.93" fill="#1A5089"/>
<line x1="444.40" y1="156.17" x2="444.40" y2="151.51" stroke="#1a1a1a" stroke-width="1.0"/>
<line x1="443.00" y1="151.51" x2="445.80" y2="151.51" stroke="#1a1a1a" stroke-width="1.0"/>
<rect x="441.20" y="156.17" width="6.40" height="49.33" fill="#C8102E"/>
<line x1="439.00" y1="206.00" x2="439.00" y2="209.00" stroke="#111" stroke-width="0.9"/>
<text x="439.00" y="217.90" font-size="8.0" text-anchor="middle" fill="#161616">LN</text>
<circle cx="377.68" cy="164.60" r="1.05" fill="#1a1a1a"/>
<circle cx="381.23" cy="164.60" r="1.05" fill="#1a1a1a"/>
<circle cx="384.78" cy="164.60" r="1.05" fill="#1a1a1a"/>
<circle cx="388.32" cy="164.60" r="1.05" fill="#1a1a1a"/>
<line x1="377.60" y1="167.50" x2="388.30" y2="167.50" stroke="#333" stroke-width="0.9"/>
<circle cx="408.73" cy="159.80" r="1.05" fill="#1a1a1a"/>
<circle cx="412.28" cy="159.80" r="1.05" fill="#1a1a1a"/>
<line x1="405.70" y1="163.00" x2="416.00" y2="163.00" stroke="#333" stroke-width="0.9"/>
<circle cx="410.48" cy="131.90" r="1.05" fill="#1a1a1a"/>
<circle cx="414.03" cy="131.90" r="1.05" fill="#1a1a1a"/>
<circle cx="417.58" cy="131.90" r="1.05" fill="#1a1a1a"/>
<circle cx="421.12" cy="131.90" r="1.05" fill="#1a1a1a"/>
<line x1="388.10" y1="135.30" x2="443.80" y2="135.30" stroke="#333" stroke-width="0.9"/>
<circle cx="427.83" cy="138.80" r="1.05" fill="#1a1a1a"/>
<circle cx="431.38" cy="138.80" r="1.05" fill="#1a1a1a"/>
<line x1="415.80" y1="141.60" x2="443.80" y2="141.60" stroke="#333" stroke-width="0.9"/>
<circle cx="433.78" cy="145.60" r="1.05" fill="#1a1a1a"/>
<circle cx="437.33" cy="145.60" r="1.05" fill="#1a1a1a"/>
<circle cx="440.88" cy="145.60" r="1.05" fill="#1a1a1a"/>
<circle cx="444.43" cy="145.60" r="1.05" fill="#1a1a1a"/>
<line x1="433.90" y1="148.80" x2="443.90" y2="148.80" stroke="#333" stroke-width="0.9"/>
<rect x="457.80" y="131.90" width="5.10" height="4.90" fill="#1A5089"/>
<text x="466.40" y="136.90" font-size="7.7" text-anchor="start" fill="#161616" textLength="23.4" lengthAdjust="spacingAndGlyphs">Vehicle</text>
<rect x="457.80" y="141.70" width="5.10" height="4.90" fill="#C8102E"/>
<text x="466.40" y="146.40" font-size="7.7" text-anchor="start" fill="#161616" textLength="16.2" lengthAdjust="spacingAndGlyphs">PMA</text>
<text x="6.80" y="148.40" font-size="11.5" text-anchor="start" fill="#000" font-weight="bold">D</text>
<line x1="41.70" y1="151.20" x2="41.70" y2="227.80" stroke="#111" stroke-width="1.0"/>
<line x1="41.20" y1="227.30" x2="126.30" y2="227.30" stroke="#111" stroke-width="1.0"/>
<line x1="38.70" y1="227.30" x2="41.70" y2="227.30" stroke="#111" stroke-width="1.0"/>
<text x="35.80" y="229.90" font-size="7.7" text-anchor="end" fill="#161616">0</text>
<line x1="38.70" y1="209.30" x2="41.70" y2="209.30" stroke="#111" stroke-width="1.0"/>
<text x="35.80" y="211.90" font-size="7.7" text-anchor="end" fill="#161616">100</text>
<line x1="38.70" y1="191.30" x2="41.70" y2="191.30" stroke="#111" stroke-width="1.0"/>
<text x="35.80" y="193.90" font-size="7.7" text-anchor="end" fill="#161616">200</text>
<line x1="38.70" y1="173.30" x2="41.70" y2="173.30" stroke="#111" stroke-width="1.0"/>
<text x="35.80" y="175.90" font-size="7.7" text-anchor="end" fill="#161616">300</text>
<line x1="38.70" y1="155.30" x2="41.70" y2="155.30" stroke="#111" stroke-width="1.0"/>
<text x="35.80" y="157.90" font-size="7.7" text-anchor="end" fill="#161616">400</text>
<text x="12.45" y="187.60" font-size="7.8" text-anchor="middle" fill="#161616" textLength="42.8" lengthAdjust="spacingAndGlyphs" transform="rotate(-90 12.45 187.60)">TNF-α (pg/ml)</text>
<line x1="50.20" y1="224.60" x2="50.20" y2="222.44" stroke="#1a1a1a" stroke-width="1.0"/>
<line x1="48.80" y1="222.44" x2="51.60" y2="222.44" stroke="#1a1a1a" stroke-width="1.0"/>
<rect x="46.90" y="224.60" width="6.60" height="2.20" fill="#1A5089"/>
<line x1="60.90" y1="175.64" x2="60.90" y2="173.30" stroke="#1a1a1a" stroke-width="1.0"/>
<line x1="59.50" y1="173.30" x2="62.30" y2="173.30" stroke="#1a1a1a" stroke-width="1.0"/>
<rect x="57.60" y="175.64" width="6.60" height="51.16" fill="#C8102E"/>
<line x1="55.60" y1="227.30" x2="55.60" y2="230.30" stroke="#111" stroke-width="0.9"/>
<text x="55.60" y="239.30" font-size="7.9" text-anchor="middle" fill="#161616">BMN</text>
<line x1="88.50" y1="206.60" x2="88.50" y2="203.54" stroke="#1a1a1a" stroke-width="1.0"/>
<line x1="87.10" y1="203.54" x2="89.90" y2="203.54" stroke="#1a1a1a" stroke-width="1.0"/>
<rect x="85.20" y="206.60" width="6.60" height="20.20" fill="#C8102E"/>
<line x1="83.20" y1="227.30" x2="83.20" y2="230.30" stroke="#111" stroke-width="0.9"/>
<text x="83.20" y="239.30" font-size="7.9" text-anchor="middle" fill="#161616">BN</text>
<line x1="116.80" y1="203.72" x2="116.80" y2="202.10" stroke="#1a1a1a" stroke-width="1.0"/>
<line x1="115.40" y1="202.10" x2="118.20" y2="202.10" stroke="#1a1a1a" stroke-width="1.0"/>
<rect x="113.50" y="203.72" width="6.60" height="23.08" fill="#C8102E"/>
<line x1="111.50" y1="227.30" x2="111.50" y2="230.30" stroke="#111" stroke-width="0.9"/>
<text x="111.50" y="239.30" font-size="7.9" text-anchor="middle" fill="#161616">LN</text>
<circle cx="50.28" cy="166.40" r="1.05" fill="#1a1a1a"/>
<circle cx="53.83" cy="166.40" r="1.05" fill="#1a1a1a"/>
<circle cx="57.38" cy="166.40" r="1.05" fill="#1a1a1a"/>
<circle cx="60.93" cy="166.40" r="1.05" fill="#1a1a1a"/>
<line x1="50.30" y1="169.70" x2="60.90" y2="169.70" stroke="#333" stroke-width="0.9"/>
<circle cx="71.45" cy="159.00" r="1.05" fill="#1a1a1a"/>
<circle cx="75.00" cy="159.00" r="1.05" fill="#1a1a1a"/>
<circle cx="78.55" cy="159.00" r="1.05" fill="#1a1a1a"/>
<line x1="61.20" y1="162.20" x2="88.90" y2="162.20" stroke="#333" stroke-width="0.9"/>
<circle cx="85.45" cy="152.00" r="1.05" fill="#1a1a1a"/>
<circle cx="89.00" cy="152.00" r="1.05" fill="#1a1a1a"/>
<circle cx="92.55" cy="152.00" r="1.05" fill="#1a1a1a"/>
<line x1="61.20" y1="155.30" x2="116.80" y2="155.30" stroke="#333" stroke-width="0.9"/>
<circle cx="81.82" cy="198.00" r="1.05" fill="#1a1a1a"/>
<circle cx="85.37" cy="198.00" r="1.05" fill="#1a1a1a"/>
<line x1="78.40" y1="201.20" x2="89.00" y2="201.20" stroke="#333" stroke-width="0.9"/>
<circle cx="108.45" cy="196.40" r="1.05" fill="#1a1a1a"/>
<circle cx="112.00" cy="196.40" r="1.05" fill="#1a1a1a"/>
<circle cx="115.55" cy="196.40" r="1.05" fill="#1a1a1a"/>
<line x1="106.50" y1="199.90" x2="116.80" y2="199.90" stroke="#333" stroke-width="0.9"/>
<line x1="164.60" y1="151.30" x2="164.60" y2="227.50" stroke="#111" stroke-width="1.0"/>
<line x1="164.10" y1="227.00" x2="250.00" y2="227.00" stroke="#111" stroke-width="1.0"/>
<line x1="161.60" y1="227.00" x2="164.60" y2="227.00" stroke="#111" stroke-width="1.0"/>
<text x="158.70" y="229.60" font-size="7.7" text-anchor="end" fill="#161616">0</text>
<line x1="161.60" y1="203.00" x2="164.60" y2="203.00" stroke="#111" stroke-width="1.0"/>
<text x="158.70" y="205.60" font-size="7.7" text-anchor="end" fill="#161616">20</text>
<line x1="161.60" y1="179.00" x2="164.60" y2="179.00" stroke="#111" stroke-width="1.0"/>
<text x="158.70" y="181.60" font-size="7.7" text-anchor="end" fill="#161616">40</text>
<line x1="161.60" y1="155.00" x2="164.60" y2="155.00" stroke="#111" stroke-width="1.0"/>
<text x="158.70" y="157.60" font-size="7.7" text-anchor="end" fill="#161616">60</text>
<text x="143.00" y="188.80" font-size="7.8" text-anchor="middle" fill="#161616" textLength="44.2" lengthAdjust="spacingAndGlyphs" transform="rotate(-90 143.00 188.80)">IL-1β (pg/ml)</text>
<line x1="173.60" y1="210.20" x2="173.60" y2="209.60" stroke="#1a1a1a" stroke-width="1.0"/>
<line x1="172.20" y1="209.60" x2="175.00" y2="209.60" stroke="#1a1a1a" stroke-width="1.0"/>
<rect x="170.30" y="210.20" width="6.60" height="16.30" fill="#1A5089"/>
<line x1="184.30" y1="167.00" x2="184.30" y2="166.52" stroke="#1a1a1a" stroke-width="1.0"/>
<line x1="182.90" y1="166.52" x2="185.70" y2="166.52" stroke="#1a1a1a" stroke-width="1.0"/>
<rect x="181.00" y="167.00" width="6.60" height="59.50" fill="#C8102E"/>
<line x1="179.00" y1="227.00" x2="179.00" y2="230.00" stroke="#111" stroke-width="0.9"/>
<text x="179.00" y="239.00" font-size="7.9" text-anchor="middle" fill="#161616">BMN</text>
<line x1="201.40" y1="217.40" x2="201.40" y2="209.24" stroke="#1a1a1a" stroke-width="1.0"/>
<line x1="200.00" y1="209.24" x2="202.80" y2="209.24" stroke="#1a1a1a" stroke-width="1.0"/>
<rect x="198.10" y="217.40" width="6.60" height="9.10" fill="#1A5089"/>
<line x1="212.10" y1="199.40" x2="212.10" y2="188.00" stroke="#1a1a1a" stroke-width="1.0"/>
<line x1="210.70" y1="188.00" x2="213.50" y2="188.00" stroke="#1a1a1a" stroke-width="1.0"/>
<rect x="208.80" y="199.40" width="6.60" height="27.10" fill="#C8102E"/>
<line x1="206.80" y1="227.00" x2="206.80" y2="230.00" stroke="#111" stroke-width="0.9"/>
<text x="206.80" y="239.00" font-size="7.9" text-anchor="middle" fill="#161616">BN</text>
<line x1="229.60" y1="210.20" x2="229.60" y2="202.40" stroke="#1a1a1a" stroke-width="1.0"/>
<line x1="228.20" y1="202.40" x2="231.00" y2="202.40" stroke="#1a1a1a" stroke-width="1.0"/>
<rect x="226.30" y="210.20" width="6.60" height="16.30" fill="#1A5089"/>
<line x1="240.30" y1="167.00" x2="240.30" y2="167.00" stroke="#1a1a1a" stroke-width="1.0"/>
<line x1="238.90" y1="167.00" x2="241.70" y2="167.00" stroke="#1a1a1a" stroke-width="1.0"/>
<rect x="237.00" y="167.00" width="6.60" height="59.50" fill="#C8102E"/>
<line x1="235.00" y1="227.00" x2="235.00" y2="230.00" stroke="#111" stroke-width="0.9"/>
<text x="235.00" y="239.00" font-size="7.9" text-anchor="middle" fill="#161616">LN</text>
<circle cx="178.60" cy="159.50" r="1.05" fill="#1a1a1a"/>
<line x1="173.70" y1="163.30" x2="183.70" y2="163.30" stroke="#333" stroke-width="0.9"/>
<circle cx="235.50" cy="160.00" r="1.05" fill="#1a1a1a"/>
<line x1="230.20" y1="163.50" x2="240.80" y2="163.50" stroke="#333" stroke-width="0.9"/>
<line x1="41.50" y1="269.60" x2="41.50" y2="345.30" stroke="#111" stroke-width="1.0"/>
<line x1="41.00" y1="344.80" x2="125.70" y2="344.80" stroke="#111" stroke-width="1.0"/>
<line x1="38.50" y1="344.80" x2="41.50" y2="344.80" stroke="#111" stroke-width="1.0"/>
<text x="35.60" y="347.40" font-size="7.7" text-anchor="end" fill="#161616">0</text>
<line x1="38.50" y1="330.54" x2="41.50" y2="330.54" stroke="#111" stroke-width="1.0"/>
<text x="35.60" y="333.14" font-size="7.7" text-anchor="end" fill="#161616">200</text>
<line x1="38.50" y1="316.28" x2="41.50" y2="316.28" stroke="#111" stroke-width="1.0"/>
<text x="35.60" y="318.88" font-size="7.7" text-anchor="end" fill="#161616">400</text>
<line x1="38.50" y1="302.02" x2="41.50" y2="302.02" stroke="#111" stroke-width="1.0"/>
<text x="35.60" y="304.62" font-size="7.7" text-anchor="end" fill="#161616">600</text>
<line x1="38.50" y1="287.76" x2="41.50" y2="287.76" stroke="#111" stroke-width="1.0"/>
<text x="35.60" y="290.36" font-size="7.7" text-anchor="end" fill="#161616">800</text>
<line x1="38.50" y1="273.50" x2="41.50" y2="273.50" stroke="#111" stroke-width="1.0"/>
<text x="35.60" y="276.10" font-size="7.7" text-anchor="end" fill="#161616">1,000</text>
<text x="12.95" y="304.90" font-size="7.8" text-anchor="middle" fill="#161616" textLength="39.0" lengthAdjust="spacingAndGlyphs" transform="rotate(-90 12.95 304.90)">IL-10 (pg/ml)</text>
<line x1="50.30" y1="338.03" x2="50.30" y2="332.18" stroke="#1a1a1a" stroke-width="1.0"/>
<line x1="48.90" y1="332.18" x2="51.70" y2="332.18" stroke="#1a1a1a" stroke-width="1.0"/>
<rect x="47.00" y="338.03" width="6.60" height="6.27" fill="#1A5089"/>
<line x1="61.00" y1="308.79" x2="61.00" y2="307.58" stroke="#1a1a1a" stroke-width="1.0"/>
<line x1="59.60" y1="307.58" x2="62.40" y2="307.58" stroke="#1a1a1a" stroke-width="1.0"/>
<rect x="57.70" y="308.79" width="6.60" height="35.51" fill="#C8102E"/>
<line x1="55.70" y1="344.80" x2="55.70" y2="347.80" stroke="#111" stroke-width="0.9"/>
<text x="55.70" y="356.80" font-size="7.9" text-anchor="middle" fill="#161616">BMN</text>
<line x1="78.20" y1="330.18" x2="78.20" y2="328.40" stroke="#1a1a1a" stroke-width="1.0"/>
<line x1="76.80" y1="328.40" x2="79.60" y2="328.40" stroke="#1a1a1a" stroke-width="1.0"/>
<rect x="74.90" y="330.18" width="6.60" height="14.12" fill="#1A5089"/>
<line x1="88.90" y1="292.25" x2="88.90" y2="288.47" stroke="#1a1a1a" stroke-width="1.0"/>
<line x1="87.50" y1="288.47" x2="90.30" y2="288.47" stroke="#1a1a1a" stroke-width="1.0"/>
<rect x="85.60" y="292.25" width="6.60" height="52.05" fill="#C8102E"/>
<line x1="83.60" y1="344.80" x2="83.60" y2="347.80" stroke="#111" stroke-width="0.9"/>
<text x="83.60" y="356.80" font-size="7.9" text-anchor="middle" fill="#161616">BN</text>
<line x1="106.00" y1="331.97" x2="106.00" y2="328.40" stroke="#1a1a1a" stroke-width="1.0"/>
<line x1="104.60" y1="328.40" x2="107.40" y2="328.40" stroke="#1a1a1a" stroke-width="1.0"/>
<rect x="102.70" y="331.97" width="6.60" height="12.33" fill="#1A5089"/>
<line x1="116.70" y1="311.65" x2="116.70" y2="297.39" stroke="#1a1a1a" stroke-width="1.0"/>
<line x1="115.30" y1="297.39" x2="118.10" y2="297.39" stroke="#1a1a1a" stroke-width="1.0"/>
<rect x="113.40" y="311.65" width="6.60" height="32.65" fill="#C8102E"/>
<line x1="111.40" y1="344.80" x2="111.40" y2="347.80" stroke="#111" stroke-width="0.9"/>
<text x="111.40" y="356.80" font-size="7.9" text-anchor="middle" fill="#161616">LN</text>
<circle cx="83.40" cy="281.60" r="1.05" fill="#1a1a1a"/>
<line x1="78.00" y1="285.50" x2="88.80" y2="285.50" stroke="#333" stroke-width="0.9"/>
<line x1="164.90" y1="269.80" x2="164.90" y2="345.60" stroke="#111" stroke-width="1.0"/>
<line x1="164.40" y1="345.10" x2="250.00" y2="345.10" stroke="#111" stroke-width="1.0"/>
<line x1="161.90" y1="345.10" x2="164.90" y2="345.10" stroke="#111" stroke-width="1.0"/>
<text x="159.00" y="347.70" font-size="7.7" text-anchor="end" fill="#161616">0</text>
<line x1="161.90" y1="330.80" x2="164.90" y2="330.80" stroke="#111" stroke-width="1.0"/>
<text x="159.00" y="333.40" font-size="7.7" text-anchor="end" fill="#161616">100</text>
<line x1="161.90" y1="316.50" x2="164.90" y2="316.50" stroke="#111" stroke-width="1.0"/>
<text x="159.00" y="319.10" font-size="7.7" text-anchor="end" fill="#161616">200</text>
<line x1="161.90" y1="302.20" x2="164.90" y2="302.20" stroke="#111" stroke-width="1.0"/>
<text x="159.00" y="304.80" font-size="7.7" text-anchor="end" fill="#161616">300</text>
<line x1="161.90" y1="287.90" x2="164.90" y2="287.90" stroke="#111" stroke-width="1.0"/>
<text x="159.00" y="290.50" font-size="7.7" text-anchor="end" fill="#161616">400</text>
<line x1="161.90" y1="273.60" x2="164.90" y2="273.60" stroke="#111" stroke-width="1.0"/>
<text x="159.00" y="276.20" font-size="7.7" text-anchor="end" fill="#161616">500</text>
<text x="139.00" y="307.30" font-size="7.8" text-anchor="middle" fill="#161616" textLength="39.9" lengthAdjust="spacingAndGlyphs" transform="rotate(-90 139.00 307.30)">IL-6 (pg/ml)</text>
<line x1="178.80" y1="345.10" x2="178.80" y2="348.10" stroke="#111" stroke-width="0.9"/>
<text x="178.80" y="357.10" font-size="7.9" text-anchor="middle" fill="#161616">BMN</text>
<line x1="207.10" y1="345.10" x2="207.10" y2="348.10" stroke="#111" stroke-width="0.9"/>
<text x="207.10" y="357.10" font-size="7.9" text-anchor="middle" fill="#161616">BN</text>
<line x1="230.30" y1="284.75" x2="230.30" y2="284.04" stroke="#1a1a1a" stroke-width="1.0"/>
<line x1="228.90" y1="284.04" x2="231.70" y2="284.04" stroke="#1a1a1a" stroke-width="1.0"/>
<rect x="227.00" y="284.75" width="6.60" height="59.85" fill="#1A5089"/>
<line x1="241.00" y1="305.63" x2="241.00" y2="305.06" stroke="#1a1a1a" stroke-width="1.0"/>
<line x1="239.60" y1="305.06" x2="242.40" y2="305.06" stroke="#1a1a1a" stroke-width="1.0"/>
<rect x="237.70" y="305.63" width="6.60" height="38.97" fill="#C8102E"/>
<line x1="235.70" y1="345.10" x2="235.70" y2="348.10" stroke="#111" stroke-width="0.9"/>
<text x="235.70" y="357.10" font-size="7.9" text-anchor="middle" fill="#161616">LN</text>
<line x1="173.00" y1="342.10" x2="214.80" y2="342.10" stroke="#333" stroke-width="1.0"/>
<text x="193.60" y="339.80" font-size="7.6" text-anchor="middle" fill="#161616" textLength="11.5" lengthAdjust="spacingAndGlyphs">ND</text>
<circle cx="230.18" cy="277.60" r="1.05" fill="#1a1a1a"/>
<circle cx="233.73" cy="277.60" r="1.05" fill="#1a1a1a"/>
<circle cx="237.28" cy="277.60" r="1.05" fill="#1a1a1a"/>
<circle cx="240.83" cy="277.60" r="1.05" fill="#1a1a1a"/>
<line x1="230.00" y1="281.10" x2="240.90" y2="281.10" stroke="#333" stroke-width="0.9"/>
<rect x="116.00" y="365.50" width="5.40" height="5.00" fill="#1A5089"/>
<text x="124.50" y="370.80" font-size="7.7" text-anchor="start" fill="#161616" textLength="23.9" lengthAdjust="spacingAndGlyphs">Vehicle</text>
<rect x="154.40" y="365.50" width="5.40" height="5.00" fill="#C8102E"/>
<text x="162.50" y="370.80" font-size="7.7" text-anchor="start" fill="#161616" textLength="12.8" lengthAdjust="spacingAndGlyphs">LPS</text>
<text x="266.50" y="266.40" font-size="11.5" text-anchor="start" fill="#000" font-weight="bold">E</text>
<text x="329.90" y="274.30" font-size="8.4" text-anchor="middle" fill="#161616" textLength="97.9" lengthAdjust="spacingAndGlyphs" style="stroke-width:0px">Go_positive_regulation_of_</text>
<text x="330.00" y="283.50" font-size="8.4" text-anchor="middle" fill="#161616" textLength="88.1" lengthAdjust="spacingAndGlyphs" style="stroke-width:0px">interleukin_6_production</text>
<rect x="276.20" y="289.00" width="108.10" height="59.00" fill="#fff"/>
<line x1="297.60" y1="289.00" x2="297.60" y2="330.20" stroke="#ececec" stroke-width="0.7"/>
<line x1="297.60" y1="330.20" x2="297.60" y2="344.40" stroke="#ececec" stroke-width="0.7"/>
<line x1="319.30" y1="289.00" x2="319.30" y2="330.20" stroke="#ececec" stroke-width="0.7"/>
<line x1="319.30" y1="330.20" x2="319.30" y2="344.40" stroke="#ececec" stroke-width="0.7"/>
<line x1="340.90" y1="289.00" x2="340.90" y2="330.20" stroke="#ececec" stroke-width="0.7"/>
<line x1="340.90" y1="330.20" x2="340.90" y2="344.40" stroke="#ececec" stroke-width="0.7"/>
<line x1="363.10" y1="289.00" x2="363.10" y2="330.20" stroke="#ececec" stroke-width="0.7"/>
<line x1="363.10" y1="330.20" x2="363.10" y2="344.40" stroke="#ececec" stroke-width="0.7"/>
<line x1="276.20" y1="291.40" x2="384.30" y2="291.40" stroke="#efefef" stroke-width="0.7"/>
<line x1="276.20" y1="297.60" x2="384.30" y2="297.60" stroke="#efefef" stroke-width="0.7"/>
<line x1="276.20" y1="304.60" x2="384.30" y2="304.60" stroke="#efefef" stroke-width="0.7"/>
<line x1="276.20" y1="311.50" x2="384.30" y2="311.50" stroke="#efefef" stroke-width="0.7"/>
<line x1="276.20" y1="324.80" x2="384.30" y2="324.80" stroke="#efefef" stroke-width="0.7"/>
<line x1="276.20" y1="318.60" x2="384.30" y2="318.60" stroke="#cfcfcf" stroke-width="0.9"/>
<line x1="276.20" y1="330.20" x2="384.30" y2="330.20" stroke="#d8d8d8" stroke-width="0.9"/>
<polyline points="276.60,318.40 277.80,319.60 279.50,315.60 281.20,311.50 281.80,302.30 283.00,300.60 284.70,298.80 286.40,295.10 288.10,296.30 289.30,295.10 291.60,290.80 293.20,292.40 295.10,293.30 296.80,294.00 301.50,295.70 306.60,297.70 312.40,300.60 318.10,303.50 325.00,307.50 330.50,310.00 336.50,312.70 341.50,315.60 346.30,319.00 351.60,322.20 357.50,325.40 361.20,327.00 364.30,325.60 368.00,328.00 370.70,327.30 371.70,323.80 373.90,320.60 376.50,316.40 379.70,318.50" fill="none" stroke="#0CEE0C" stroke-width="1.4" stroke-linejoin="round" stroke-linecap="round"/>
<line x1="278.30" y1="330.80" x2="278.30" y2="344.20" stroke="#999" stroke-width="0.8"/>
<line x1="279.50" y1="330.80" x2="279.50" y2="344.20" stroke="#777" stroke-width="0.8"/>
<line x1="281.20" y1="330.80" x2="281.20" y2="344.20" stroke="#888" stroke-width="0.8"/>
<line x1="282.40" y1="330.80" x2="282.40" y2="344.20" stroke="#666" stroke-width="0.8"/>
<line x1="284.70" y1="330.80" x2="284.70" y2="344.20" stroke="#888" stroke-width="0.8"/>
<line x1="285.80" y1="330.80" x2="285.80" y2="344.20" stroke="#777" stroke-width="0.8"/>
<line x1="289.30" y1="330.80" x2="289.30" y2="344.20" stroke="#999" stroke-width="0.8"/>
<line x1="290.50" y1="330.80" x2="290.50" y2="344.20" stroke="#666" stroke-width="0.8"/>
<line x1="291.60" y1="330.80" x2="291.60" y2="344.20" stroke="#777" stroke-width="0.8"/>
<line x1="296.20" y1="330.80" x2="296.20" y2="344.20" stroke="#999" stroke-width="0.8"/>
<line x1="298.00" y1="330.80" x2="298.00" y2="344.20" stroke="#888" stroke-width="0.8"/>
<line x1="299.70" y1="330.80" x2="299.70" y2="344.20" stroke="#999" stroke-width="0.8"/>
<line x1="302.00" y1="330.80" x2="302.00" y2="344.20" stroke="#888" stroke-width="0.8"/>
<line x1="304.30" y1="330.80" x2="304.30" y2="344.20" stroke="#999" stroke-width="0.8"/>
<line x1="306.00" y1="330.80" x2="306.00" y2="344.20" stroke="#888" stroke-width="0.8"/>
<line x1="307.80" y1="330.80" x2="307.80" y2="344.20" stroke="#aaa" stroke-width="0.8"/>
<line x1="311.20" y1="330.80" x2="311.20" y2="344.20" stroke="#777" stroke-width="0.8"/>
<line x1="314.70" y1="330.80" x2="314.70" y2="344.20" stroke="#999" stroke-width="0.8"/>
<line x1="316.40" y1="330.80" x2="316.40" y2="344.20" stroke="#888" stroke-width="0.8"/>
<line x1="318.70" y1="330.80" x2="318.70" y2="344.20" stroke="#aaa" stroke-width="0.8"/>
<line x1="319.90" y1="330.80" x2="319.90" y2="344.20" stroke="#999" stroke-width="0.8"/>
<line x1="328.50" y1="330.80" x2="328.50" y2="344.20" stroke="#777" stroke-width="0.8"/>
<line x1="331.50" y1="330.80" x2="331.50" y2="344.20" stroke="#999" stroke-width="0.8"/>
<line x1="335.50" y1="330.80" x2="335.50" y2="344.20" stroke="#aaa" stroke-width="0.8"/>
<line x1="339.00" y1="330.80" x2="339.00" y2="344.20" stroke="#999" stroke-width="0.8"/>
<line x1="343.00" y1="330.80" x2="343.00" y2="344.20" stroke="#aaa" stroke-width="0.8"/>
<line x1="346.50" y1="330.80" x2="346.50" y2="344.20" stroke="#888" stroke-width="0.8"/>
<line x1="358.60" y1="330.80" x2="358.60" y2="344.20" stroke="#999" stroke-width="0.8"/>
<line x1="362.60" y1="330.80" x2="362.60" y2="344.20" stroke="#aaa" stroke-width="0.8"/>
<line x1="363.80" y1="330.80" x2="363.80" y2="344.20" stroke="#999" stroke-width="0.8"/>
<line x1="369.00" y1="330.80" x2="369.00" y2="344.20" stroke="#999" stroke-width="0.8"/>
<line x1="371.30" y1="330.80" x2="371.30" y2="344.20" stroke="#aaa" stroke-width="0.8"/>
<line x1="373.00" y1="330.80" x2="373.00" y2="344.20" stroke="#999" stroke-width="0.8"/>
<line x1="374.70" y1="330.80" x2="374.70" y2="344.20" stroke="#aaa" stroke-width="0.8"/>
<line x1="376.40" y1="330.80" x2="376.40" y2="344.20" stroke="#999" stroke-width="0.8"/>
<rect x="276.40" y="344.50" width="16.40" height="3.20" fill="#E83838"/>
<rect x="292.80" y="344.50" width="16.70" height="3.20" fill="#F06A78"/>
<rect x="309.50" y="344.50" width="13.30" height="3.20" fill="#F4AADC"/>
<rect x="322.80" y="344.50" width="13.20" height="3.20" fill="#CACAF8"/>
<rect x="336.00" y="344.50" width="11.60" height="3.20" fill="#B8B8F4"/>
<rect x="347.60" y="344.50" width="8.70" height="3.20" fill="#7474F0"/>
<rect x="356.30" y="344.50" width="15.50" height="3.20" fill="#5050DE"/>
<rect x="371.80" y="344.50" width="7.50" height="3.20" fill="#2020C0"/>
<line x1="276.20" y1="289.00" x2="276.20" y2="348.00" stroke="#c8c8c0" stroke-width="1.0"/>
<line x1="276.20" y1="289.00" x2="384.30" y2="289.00" stroke="#e4e4e4" stroke-width="0.8"/>
<line x1="384.30" y1="289.00" x2="384.30" y2="348.00" stroke="#e4e4e4" stroke-width="0.8"/>
<text x="342.10" y="296.60" font-size="7.3" text-anchor="start" fill="#161616" textLength="30.2" lengthAdjust="spacingAndGlyphs">NES:1.46</text>
<text x="342.10" y="305.50" font-size="7.3" text-anchor="start" fill="#161616" textLength="38.9" lengthAdjust="spacingAndGlyphs">P val&lt;0.005</text>
<text x="342.10" y="314.20" font-size="7.3" text-anchor="start" fill="#161616" textLength="30.2" lengthAdjust="spacingAndGlyphs">FDR:0.18</text>
<text x="275.80" y="356.90" font-size="8.3" text-anchor="start" fill="#161616" textLength="9.6" lengthAdjust="spacingAndGlyphs">LN</text>
<text x="384.30" y="356.90" font-size="8.3" text-anchor="end" fill="#161616" textLength="10.4" lengthAdjust="spacingAndGlyphs">BN</text>
<text x="405.80" y="266.60" font-size="11.5" text-anchor="start" fill="#000" font-weight="bold">F</text>
<text x="429.90" y="288.00" font-size="7.9" text-anchor="middle" fill="#161616" textLength="18.1" lengthAdjust="spacingAndGlyphs">BMN</text>
<line x1="418.20" y1="291.20" x2="442.00" y2="291.20" stroke="#111" stroke-width="1.0"/>
<text x="458.20" y="288.10" font-size="7.9" text-anchor="middle" fill="#161616" textLength="10.4" lengthAdjust="spacingAndGlyphs">BN</text>
<line x1="446.20" y1="291.20" x2="470.00" y2="291.20" stroke="#111" stroke-width="1.0"/>
<text x="486.60" y="288.10" font-size="7.9" text-anchor="middle" fill="#161616" textLength="9.7" lengthAdjust="spacingAndGlyphs">LN</text>
<line x1="475.10" y1="291.20" x2="498.80" y2="291.20" stroke="#111" stroke-width="1.0"/>
<rect x="414.90" y="294.30" width="9.77" height="7.80" fill="#C8CAE8"/>
<rect x="424.67" y="294.30" width="9.77" height="7.80" fill="#4A4DB5"/>
<rect x="434.44" y="294.30" width="9.77" height="7.80" fill="#E6E7F4"/>
<rect x="444.21" y="294.30" width="9.77" height="7.80" fill="#E0E1F2"/>
<rect x="453.98" y="294.30" width="9.77" height="7.80" fill="#C4C6E6"/>
<rect x="463.75" y="294.30" width="9.77" height="7.80" fill="#00008B"/>
<rect x="473.52" y="294.30" width="9.77" height="7.80" fill="#D82020"/>
<rect x="483.29" y="294.30" width="9.77" height="7.80" fill="#DC3A3A"/>
<rect x="493.06" y="294.30" width="9.77" height="7.80" fill="#F4C0C0"/>
<line x1="414.90" y1="294.30" x2="414.90" y2="302.10" stroke="#9a9a9a" stroke-width="1.0"/>
<line x1="424.67" y1="294.30" x2="424.67" y2="302.10" stroke="#9a9a9a" stroke-width="1.0"/>
<line x1="434.44" y1="294.30" x2="434.44" y2="302.10" stroke="#9a9a9a" stroke-width="1.0"/>
<line x1="444.21" y1="294.30" x2="444.21" y2="302.10" stroke="#9a9a9a" stroke-width="1.0"/>
<line x1="453.98" y1="294.30" x2="453.98" y2="302.10" stroke="#9a9a9a" stroke-width="1.0"/>
<line x1="463.75" y1="294.30" x2="463.75" y2="302.10" stroke="#9a9a9a" stroke-width="1.0"/>
<line x1="473.52" y1="294.30" x2="473.52" y2="302.10" stroke="#9a9a9a" stroke-width="1.0"/>
<line x1="483.29" y1="294.30" x2="483.29" y2="302.10" stroke="#9a9a9a" stroke-width="1.0"/>
<line x1="493.06" y1="294.30" x2="493.06" y2="302.10" stroke="#9a9a9a" stroke-width="1.0"/>
<line x1="502.83" y1="294.30" x2="502.83" y2="302.10" stroke="#9a9a9a" stroke-width="1.0"/>
<line x1="414.90" y1="294.30" x2="502.83" y2="294.30" stroke="#9a9a9a" stroke-width="1.0"/>
<line x1="414.90" y1="302.10" x2="502.83" y2="302.10" stroke="#9a9a9a" stroke-width="1.0"/>
<text x="505.60" y="301.00" font-size="8.6" text-anchor="start" fill="#161616" font-style="italic" style="stroke-width:0px">Il6</text>
<text x="463.40" y="315.20" font-size="7.6" text-anchor="middle" fill="#161616" textLength="43.1" lengthAdjust="spacingAndGlyphs">Row Z score</text>
<defs><linearGradient id="cb2" x1="0" x2="1" y1="0" y2="0"><stop offset="0" stop-color="#00008B"/><stop offset="0.5" stop-color="#FFFFFF"/><stop offset="1" stop-color="#C80000"/></linearGradient></defs>
<rect x="436.00" y="318.00" width="55.00" height="6.00" fill="url(#cb2)"/>
<text x="439.10" y="327.20" font-size="7.3" text-anchor="end" fill="#161616" transform="rotate(-90 439.10 327.20)">−1.5</text>
<text x="447.90" y="327.20" font-size="7.3" text-anchor="end" fill="#161616" transform="rotate(-90 447.90 327.20)">−1</text>
<text x="457.30" y="327.20" font-size="7.3" text-anchor="end" fill="#161616" transform="rotate(-90 457.30 327.20)">−0.5</text>
<text x="465.40" y="327.20" font-size="7.3" text-anchor="end" fill="#161616" transform="rotate(-90 465.40 327.20)">0</text>
<text x="474.50" y="327.20" font-size="7.3" text-anchor="end" fill="#161616" transform="rotate(-90 474.50 327.20)">0.5</text>
<text x="483.60" y="327.20" font-size="7.3" text-anchor="end" fill="#161616" transform="rotate(-90 483.60 327.20)">1</text>
<text x="491.60" y="327.20" font-size="7.3" text-anchor="end" fill="#161616" transform="rotate(-90 491.60 327.20)">1.5</text>
<rect x="0.5" y="0.5" width="519" height="377" fill="none" stroke="#000" stroke-width="1"/>
</svg>
</body></html>
